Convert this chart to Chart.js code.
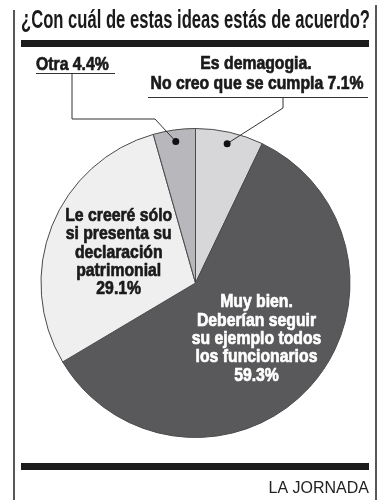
<!DOCTYPE html>
<html>
<head>
<meta charset="utf-8">
<title>¿Con cuál de estas ideas estás de acuerdo?</title>
<script src="https://cdn.jsdelivr.net/npm/chart.js@4"></script>
<style>
  html, body { margin: 0; padding: 0; background: #fff; }
  #wrap { width: 390px; height: 500px; }
</style>
</head>
<body>
<div id="wrap"><canvas id="G1" width="390" height="500"></canvas></div>
<script>
// datos (en el orden del reloj, empezando arriba)
const categories = [
    'Es demagogia. No creo que se cumpla',
    'Muy bien. Deberían seguir su ejemplo todos los funcionarios',
    'Le creeré sólo si presenta su declaración patrimonial',
    'Otra'
];
const values = [7.1, 59.3, 29.1, 4.4];
const sliceColors = ["#d7d7d9", "#59595b", "#efefef", "#b8b8bc"];

// texto de las etiquetas, el porcentaje se agrega al final
const labelLines = [
    ['Es demagogia.', 'No creo que se cumpla'],
    ['Muy bien.', 'Deberían seguir', 'su ejemplo todos', 'los funcionarios'],
    ['Le creeré sólo', 'si presenta su', 'declaración', 'patrimonial'],
    ['Otra']
];

const sans = '"Liberation Sans", Arial, Helvetica, sans-serif';
const pct = v => v.toFixed(1) + '%';

// texto "condensado" y un poco mas grueso
function squeezed(ctx, text, x, y, sx) {
    ctx.save();
    ctx.translate(x, y);
    ctx.scale(sx, 1);
    ctx.strokeStyle = ctx.fillStyle;
    ctx.lineWidth = 0.7;
    ctx.lineJoin = 'round';
    ctx.strokeText(text, 0, 0);
    ctx.fillText(text, 0, 0);
    ctx.restore();
}

const frame = {
    id: 'frame',
    afterDraw(chart) {
        const ctx = chart.ctx;
        const arcs = chart.getDatasetMeta(0).data;
        const spot = (i, k) => {
            const a = arcs[i];
            const m = (a.startAngle + a.endAngle) / 2;
            return { x: a.x + Math.cos(m) * a.outerRadius * k, y: a.y + Math.sin(m) * a.outerRadius * k };
        };
        ctx.save();

        // bordes laterales y barras
        ctx.strokeStyle = '#222';
        ctx.lineWidth = 1.5;
        ctx.beginPath();
        ctx.moveTo(14, 10); ctx.lineTo(14, 500);
        ctx.moveTo(376, 5); ctx.lineTo(376, 500);
        ctx.stroke();
        ctx.fillStyle = '#1c1c1c';
        ctx.fillRect(21, 40, 348, 7);
        ctx.fillRect(21, 463, 348, 7);

        ctx.fillStyle = '#222';
        ctx.font = '16px ' + sans;
        ctx.textAlign = 'right';
        ctx.textBaseline = 'alphabetic';
        ctx.fillText('LA JORNADA', 369, 493);

        // etiquetas de fuera
        const sx = 0.83;
        ctx.font = 'bold 19px ' + sans;
        ctx.textAlign = 'left';
        ctx.fillStyle = '#1a1a1a';
        squeezed(ctx, labelLines[3][0] + ' ' + pct(values[3]), 36, 70, sx);
        ctx.textAlign = 'center';
        squeezed(ctx, labelLines[0][0], 256, 69, sx);
        squeezed(ctx, labelLines[0][1] + ' ' + pct(values[0]), 257, 89, sx);

        const d0 = spot(0, 0.925), d3 = spot(3, 0.925);
        ctx.strokeStyle = '#333';
        ctx.lineWidth = 1;
        ctx.beginPath();
        ctx.moveTo(36, 73.5); ctx.lineTo(115, 73.5);
        ctx.moveTo(72, 73.5); ctx.lineTo(72, 119); ctx.lineTo(155, 119); ctx.lineTo(d3.x, d3.y);
        ctx.moveTo(148, 97.5); ctx.lineTo(368, 97.5);
        ctx.moveTo(283, 97.5); ctx.lineTo(283, 108); ctx.lineTo(d0.x, d0.y);
        ctx.stroke();
        ctx.fillStyle = '#111';
        [d0, d3].forEach(p => { ctx.beginPath(); ctx.arc(p.x, p.y, 3.5, 0, Math.PI * 2); ctx.fill(); });

        // etiquetas dentro del pastel
        const inner = [[1, '#ffffff'], [2, '#1a1a1a']];
        inner.forEach(([i, col]) => {
            const c = spot(i, 0.535);
            const lines = labelLines[i].concat([pct(values[i])]);
            const lh = 18.3;
            ctx.fillStyle = col;
            ctx.textBaseline = 'middle';
            lines.forEach((t, j) => {
                squeezed(ctx, t, c.x, c.y + (j - (lines.length - 1) / 2) * lh, sx);
            });
        });
        ctx.restore();
    }
};

new Chart(document.getElementById("G1"), {
    type: 'pie',
    data: {
        labels: categories,
        datasets: [
            {
                backgroundColor: sliceColors,
                borderColor: '#4a4a4a',
                borderWidth: 1,
                data: values
            }
        ]
    },
    options: {
        responsive: false,
        animation: false,
        layout: { padding: { left: 21, right: 20, top: 0, bottom: 62 } },
        plugins: {
            legend: { display: false },
            tooltip: { enabled: false },
            title: {
                display: true,
                text: '¿Con cuál de estas ideas estás de acuerdo?',
                color: '#1a1a1a',
                font: { family: sans, size: 25, weight: 'bold', lineHeight: 1.2 },
                padding: { top: 6, bottom: 92 }
            }
        }
    },
    plugins: [frame]
});
</script>
</body>
</html>
